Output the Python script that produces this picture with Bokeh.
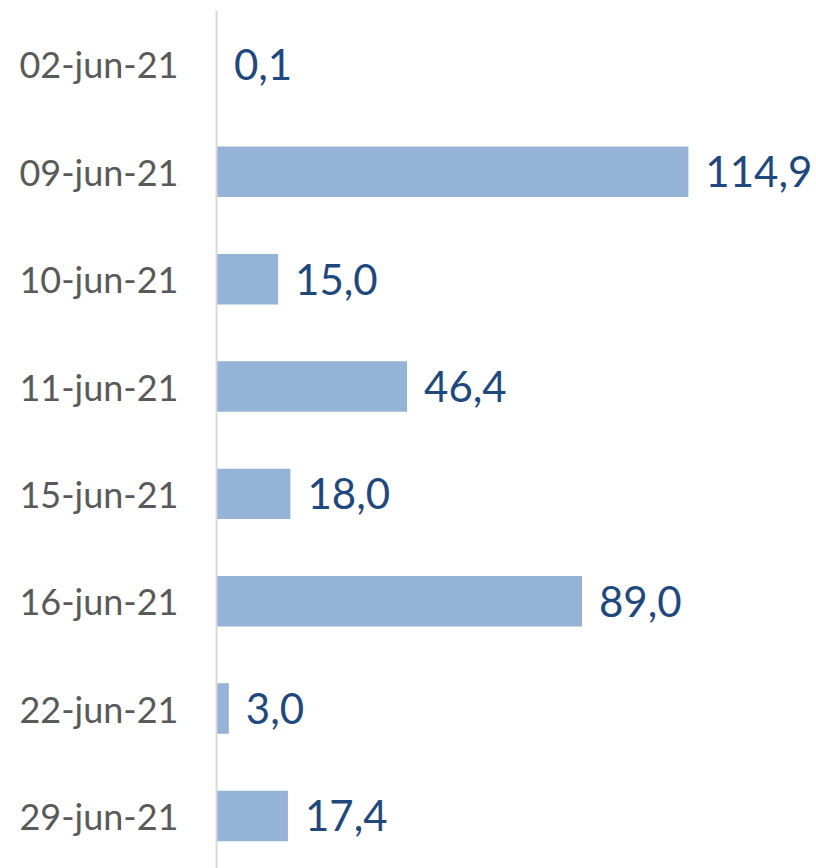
from bokeh.plotting import figure
from bokeh.models import ColumnDataSource, Range1d, FixedTicker
from bokeh.core.properties import value
from bokeh.embed import file_html
from bokeh.resources import INLINE

dates = ["02-jun-21", "09-jun-21", "10-jun-21", "11-jun-21",
         "15-jun-21", "16-jun-21", "22-jun-21", "29-jun-21"]
values = [0.1, 114.9, 15.0, 46.4, 18.0, 89.0, 3.0, 17.4]
labels = [f"{v:.1f}".replace(".", ",") for v in values]
pos = list(range(len(dates)))

src = ColumnDataSource(dict(y=pos, v=values, lab=labels, d=dates))

p = figure(width=816, height=868, output_backend="svg", toolbar_location=None,
           x_range=Range1d(0, 146.1), y_range=Range1d(7.49, -0.503),
           min_border_left=216, min_border_right=0, min_border_top=10, min_border_bottom=0)

p.hbar(y="y", right="v", left=0, height=0.47, source=src,
       fill_color="#95B3D7", line_color=None)
p.text(x="v", y="y", text="lab", source=src, x_offset=17,
       text_align="left", text_baseline="middle",
       text_font=value("Lato"), text_font_size="42px", text_color="#1F497D")

p.xaxis.visible = False
p.yaxis.ticker = FixedTicker(ticks=pos)
p.yaxis.major_label_overrides = {i: d for i, d in zip(pos, dates)}
p.yaxis.axis_line_color = "#D9D9D9"
p.yaxis.axis_line_width = 2
p.yaxis.major_tick_line_color = None
p.yaxis.minor_tick_line_color = None
p.yaxis.major_tick_out = 0
p.yaxis.major_label_standoff = 38
p.yaxis.major_label_text_font = "Lato"
p.yaxis.major_label_text_font_size = "36px"
p.yaxis.major_label_text_color = "#595959"
p.grid.visible = False
p.outline_line_color = None

open("out.html", "w").write(file_html(p, INLINE))
